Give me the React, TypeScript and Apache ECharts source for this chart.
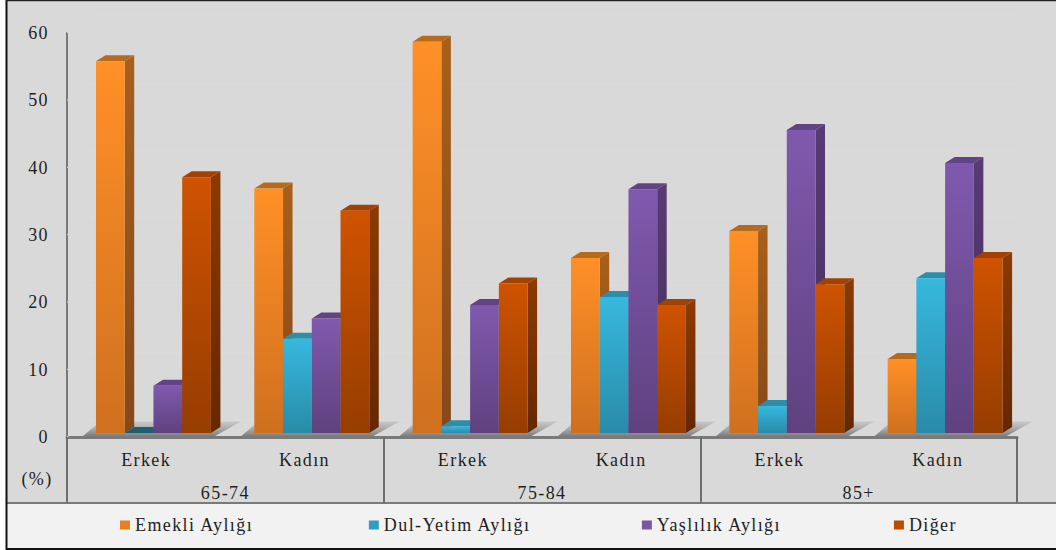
import React, { useEffect, useRef } from "react";
import * as echarts from "echarts";

const ageGroups = ["65-74", "75-84", "85+"];
const genders = ["Erkek", "Kadın", "Erkek", "Kadın", "Erkek", "Kadın"];
const yTicks = [0, 10, 20, 30, 40, 50, 60];

const emekli = [55.2, 36.3, 58.1, 26, 30, 11];
const dulYetim = [0, 14, 1, 20.2, 4, 23];
const yaslilik = [7, 17, 19, 36.2, 45, 40.1];
const diger = [38, 33, 22.2, 19, 22.1, 26];

const seriesDefs = [
  { name: "Emekli Aylığı", values: emekli, slot: 0, legend: "#e8801f", frontA: "#ff9027", frontB: "#cf701f", sideA: "#a8601a", sideB: "#85481a", top: "#b86a1c", low: "#b86a1c" },
  { name: "Dul-Yetim Aylığı", values: dulYetim, slot: 1, legend: "#2f9fc0", frontA: "#37b8de", frontB: "#298ba8", sideA: "#1f7288", sideB: "#1a5f72", top: "#2a8fa9", low: "#1c5f70" },
  { name: "Yaşlılık Aylığı", values: yaslilik, slot: 2, legend: "#7a55a5", frontA: "#8059ae", frontB: "#5f417f", sideA: "#563b74", sideB: "#452f5e", top: "#604485", low: "#604485" },
  { name: "Diğer", values: diger, slot: 3, legend: "#bd4c00", frontA: "#cf5300", frontB: "#963d00", sideA: "#8c3a00", sideB: "#652800", top: "#a54100", low: "#a54100" },
];

const BAR_SHARE = 0.1815;
const LEAD_SHARE = 0.183;
const DX = 9.5;
const DY = 6;
const LIFT = 4;

function gradient(a: string, b: string) {
  return new echarts.graphic.LinearGradient(0, 0, 0, 1, [
    { offset: 0, color: a },
    { offset: 1, color: b },
  ]);
}

function barRenderer(def: (typeof seriesDefs)[number]) {
  return (_params: any, api: any) => {
    const idx = api.value(0);
    const val = api.value(1);
    const band = api.size([1, 0])[0];
    const base = api.coord([idx, 0]);
    const head = api.coord([idx, val]);
    const w = band * BAR_SHARE;
    const x0 = base[0] - band / 2 + band * LEAD_SHARE + def.slot * w;
    const x1 = x0 + w;
    const yb = base[1] - LIFT;
    const yt = head[1] - LIFT;
    const children: any[] = [];
    children.push({
      type: "polygon",
      shape: { points: [[x1, yt], [x1 + DX, yt - DY], [x1 + DX, yb - DY], [x1, yb]] },
      style: { fill: gradient(def.sideA, def.sideB) },
    });
    children.push({
      type: "polygon",
      shape: { points: [[x0, yt], [x0 + DX, yt - DY], [x1 + DX, yt - DY], [x1, yt]] },
      style: { fill: val < 0.5 ? def.low : def.top },
    });
    if (yb - yt > 0.5) {
      children.push({
        type: "rect",
        shape: { x: x0, y: yt, width: w, height: yb - yt },
        style: { fill: gradient(def.frontA, def.frontB) },
      });
    }
    return { type: "group", children };
  };
}

function floorRenderer(_params: any, api: any) {
  const idx = api.value(0);
  const band = api.size([1, 0])[0];
  const base = api.coord([idx, 0]);
  const x0 = base[0] - band / 2;
  const y = base[1];
  return {
    type: "polygon",
    shape: {
      points: [
        [x0 + 16, y - 1],
        [x0 + 148, y - 1],
        [x0 + 174, y - 15.5],
        [x0 + 33, y - 15.5],
      ],
    },
    style: {
      fill: new echarts.graphic.LinearGradient(0, 0, 0, 1, [
        { offset: 0, color: "rgba(185,185,185,0.55)" },
        { offset: 0.7, color: "rgba(150,150,150,0.95)" },
        { offset: 1, color: "rgba(125,125,125,1)" },
      ]),
    },
  };
}

function wallRenderer(_params: any, api: any) {
  const tick = api.value(0);
  const p = api.coord([0, tick]);
  const band = api.size([1, 0])[0];
  const x0 = p[0] - band / 2;
  const xEnd = x0 + band * 6;
  return {
    type: "polyline",
    shape: { points: [[x0, p[1]], [x0 + 23, p[1] - 17], [xEnd, p[1] - 17]] },
    style: { stroke: "#dcdcdc", lineWidth: 1, fill: "none" },
  };
}

export default function App() {
  const ref = useRef<HTMLDivElement>(null);
  useEffect(() => {
    document.body.style.margin = "0";
    const chart = echarts.init(ref.current!, null, { renderer: "svg" });
    const font = "Liberation Serif";
    const ink = "#1f1f1f";
    chart.setOption({
      animation: false,
      backgroundColor: "#ffffff",
      textStyle: { fontFamily: font },
      graphic: [
        { type: "rect", z: -10, shape: { x: 7, y: 1, width: 1049, height: 547 }, style: { fill: "#d9d9d9" } },
        { type: "rect", z: -9, shape: { x: 7, y: 503, width: 1049, height: 45 }, style: { fill: "#f2f2f2" } },
        { type: "line", z: -8, shape: { x1: 7, y1: 503, x2: 1056, y2: 503 }, style: { stroke: "#7a7a7a", lineWidth: 2 } },
        { type: "line", z: 50, shape: { x1: 6.5, y1: 0, x2: 6.5, y2: 550 }, style: { stroke: "#111111", lineWidth: 2 } },
        { type: "line", z: 50, shape: { x1: 6, y1: 0.5, x2: 1056, y2: 0.5 }, style: { stroke: "#222222", lineWidth: 1.5 } },
        { type: "line", z: 50, shape: { x1: 6, y1: 549, x2: 1056, y2: 549 }, style: { stroke: "#111111", lineWidth: 2 } },
        {
          type: "text",
          z: 50,
          x: 37,
          y: 479,
          style: { text: "(%)", fill: ink, font: `18px "${font}"`, align: "center", verticalAlign: "middle" },
        },
      ],
      grid: { left: 67, right: 39, top: 33, bottom: 113, containLabel: false },
      legend: {
        left: 120,
        top: 516,
        padding: 0,
        icon: "rect",
        itemWidth: 10,
        itemHeight: 9,
        itemGap: 133,
        selectedMode: false,
        data: seriesDefs.map((d) => d.name),
        textStyle: { fontFamily: font, fontSize: 18, color: ink },
      },
      xAxis: [
        {
          type: "category",
          position: "bottom",
          data: genders,
          axisLine: { onZero: false, lineStyle: { color: "#7a7a7a", width: 3 } },
          axisTick: { show: false },
          axisLabel: { interval: 0, margin: 14, fontSize: 18, fontFamily: font, color: ink },
        },
        {
          type: "category",
          position: "bottom",
          data: ageGroups,
          axisLine: { show: false, onZero: false },
          axisTick: { show: true, length: 66, lineStyle: { color: "#6e6e6e", width: 2 } },
          axisLabel: { interval: 0, margin: 47, fontSize: 18, fontFamily: font, color: ink },
        },
      ],
      yAxis: {
        type: "value",
        min: 0,
        max: 60,
        interval: 10,
        axisLine: { show: true, lineStyle: { color: "#7a7a7a", width: 2 } },
        axisTick: { show: false },
        splitLine: { show: false },
        axisLabel: { margin: 18, fontSize: 18, fontFamily: font, color: ink },
      },
      series: [
        {
          type: "custom",
          name: "wall",
          silent: true,
          coordinateSystem: "cartesian2d",
          data: yTicks.map((t) => [t]),
          encode: { y: 0 },
          renderItem: wallRenderer,
          z: 1,
          clip: false,
        },
        {
          type: "custom",
          name: "floor",
          silent: true,
          data: genders.map((_, i) => [i]),
          encode: { x: 0 },
          renderItem: floorRenderer,
          z: 1,
          clip: false,
        },
        ...seriesDefs.map((d, k) => ({
          type: "custom",
          name: d.name,
          data: d.values.map((v, i) => [i, v]),
          encode: { x: 0, y: 1 },
          itemStyle: { color: d.legend },
          renderItem: barRenderer(d),
          z: 2 + k,
          clip: false,
        })),
      ],
    });
    return () => chart.dispose();
  }, []);
  return <div ref={ref} style={{ width: 1056, height: 550, letterSpacing: "1.4px" }} />;
}
